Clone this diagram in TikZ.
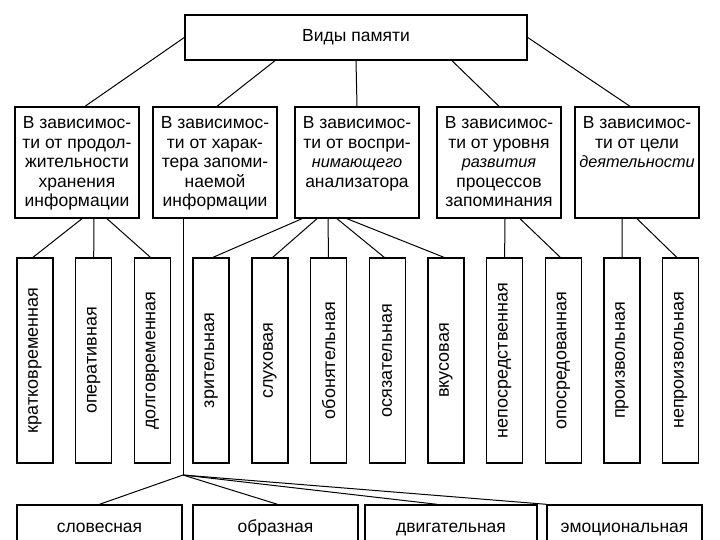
\documentclass[tikz,border=0pt]{standalone}
\usepackage{fontspec}
\setmainfont{Liberation Sans}
\usepackage{graphicx}
\newcommand{\kindtext}[1]{\parbox[c][92pt][t]{122pt}{\centering #1}}
\newcommand{\slanted}[1]{{\fontsize{16.3}{19.5}\selectfont\itshape #1}}
\begin{document}
\begin{tikzpicture}[x=1pt,y=-1pt,
    every node/.style={draw,line width=1.4pt,inner sep=0pt,font=\fontsize{17.5}{19.5}\selectfont},
    kind/.style={minimum width=124,minimum height=111},
    vbox/.style={minimum width=36,minimum height=205,font=\fontsize{18}{20}\selectfont},
    bbox/.style={minimum height=46,text height=12.5pt,text depth=4pt},
    link/.style={line width=1pt}]
    \path[use as bounding box] (0,0) rectangle (720,540);
    \clip (0,0) rectangle (720,540);
    \fill[white] (0,0) rectangle (720,540);

    \node[minimum width=342,minimum height=45] (T) at (356,37.5) {Виды памяти};

    \node[kind] (A1) at (77,162.5) {\kindtext{В зависимос-\\ти от продол-\\жительности\\хранения\\информации}};
    \node[kind] (A2) at (215,162.5) {\kindtext{В зависимос-\\ти от харак-\\тера запоми-\\наемой\\информации}};
    \node[kind] (A3) at (357,162.5) {\kindtext{В зависимос-\\ти от воспри-\\\slanted{нимающего}\\анализатора}};
    \node[kind] (A4) at (499,162.5) {\kindtext{В зависимос-\\ти от уровня\\\slanted{развития}\\процессов\\запоминания}};
    \node[kind] (A5) at (637,162.5) {\kindtext{В зависимос-\\ти от цели\\\slanted{деятельности}}};

    \foreach \t [count=\i] in {кратковременная,оперативная,долговременная,зрительная,слуховая,обонятельная,осязательная,вкусовая,непосредственная,опосредованная,произвольная,непроизвольная}
        \node[vbox] (V\i) at ({35+58.7*(\i-1)},360.5) {\rotatebox[origin=c]{90}{\t}};

    \node[bbox,minimum width=165] (B1) at (99.5,528) {словесная};
    \node[bbox,minimum width=165] (B2) at (275.5,528) {образная};
    \node[bbox,minimum width=172] (B3) at (451,528) {двигательная};
    \node[bbox,minimum width=155] (B4) at (624.5,528) {эмоциональная};
    \coordinate (J) at (183,475);

    % top level
    \draw[link] (T.west) -- ([xshift=8]A1.north);
    \draw[link] ([xshift=-81]T.south) -- ([xshift=2]A2.north);
    \draw[link] (T.south) -- (A3.north);
    \draw[link] ([xshift=96]T.south) -- (A4.north);
    \draw[link] (T.east) -- ([xshift=-7]A5.north);

    % second level
    \draw[link] ([xshift=5]A1.south) -- ([xshift=-2]V1.north);
    \draw[link] ([xshift=17]A1.south) -- (V2.north);
    \draw[link] ([xshift=30]A1.south) -- ([xshift=-2]V3.north);
    \draw[link] ([xshift=-32]A2.south) -- (J);
    \draw[link] ([xshift=-55]A3.south) -- ([xshift=2]V4.north);
    \draw[link] ([xshift=-40]A3.south) -- ([xshift=3]V5.north);
    \draw[link] ([xshift=-29]A3.south) -- (V6.north);
    \draw[link] ([xshift=-20]A3.south) -- ([xshift=-3]V7.north);
    \draw[link] ([xshift=-10]A3.south) -- ([xshift=-2]V8.north);
    \draw[link] ([xshift=6]A4.south) -- (V9.north);
    \draw[link] ([xshift=21]A4.south) -- ([xshift=-3]V10.north);
    \draw[link] ([xshift=-15]A5.south) -- (V11.north);
    \draw[link] (A5.south) -- ([xshift=-4]V12.north);

    % bottom level
    \draw[link] (J) -- (B1.north);
    \draw[link] (J) -- ([xshift=2]B2.north);
    \draw[link] (J) -- ([xshift=-14]B3.north);
    \draw[link] (J) -- (B4.north west);
\end{tikzpicture}
\end{document}
